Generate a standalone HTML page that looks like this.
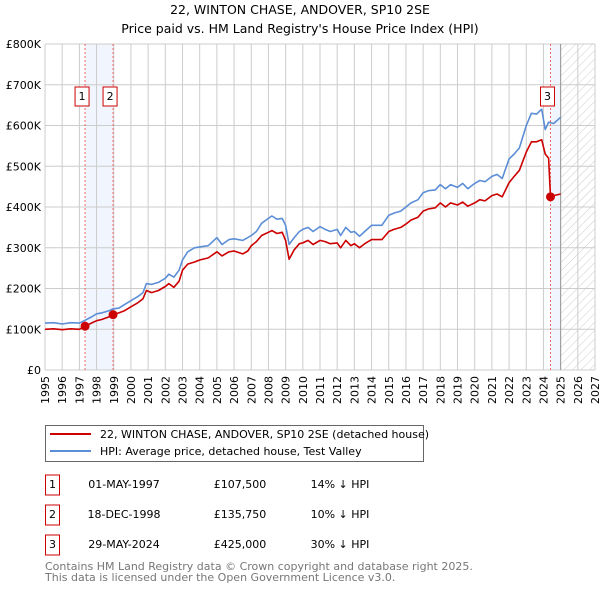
<!DOCTYPE html>
<html><head><meta charset="utf-8"><style>
body{margin:0;background:#fff;font-family:"DejaVu Sans","Liberation Sans",sans-serif;}
svg text{font-family:"DejaVu Sans","Liberation Sans",sans-serif;}
</style></head><body>
<svg id="c" width="600" height="590" xmlns="http://www.w3.org/2000/svg">
<defs><pattern id="hatch" width="6" height="6" patternUnits="userSpaceOnUse" patternTransform="rotate(45)"><line x1="0" y1="0" x2="0" y2="6" stroke="#ccc" stroke-width="1"/></pattern></defs>
<text x="300" y="14" font-size="12.5" text-anchor="middle">22, WINTON CHASE, ANDOVER, SP10 2SE</text>
<text x="300" y="33" font-size="12.5" text-anchor="middle">Price paid vs. HM Land Registry's House Price Index (HPI)</text>
<g id="plot"></g>
<g>
<rect x="45.5" y="425.5" width="378" height="36" fill="#fff" stroke="#666"/>
<line x1="50" y1="434" x2="91" y2="434" stroke="#cc0000" stroke-width="2"/>
<text x="100" y="438" font-size="11">22, WINTON CHASE, ANDOVER, SP10 2SE (detached house)</text>
<line x1="50" y1="451" x2="91" y2="451" stroke="#5b8ed6" stroke-width="2"/>
<text x="100" y="455" font-size="11">HPI: Average price, detached house, Test Valley</text>
</g>
<g id="table" font-size="11"></g>
<text x="45" y="570" font-size="11" fill="#777">Contains HM Land Registry data © Crown copyright and database right 2025.</text>
<text x="45" y="581" font-size="11" fill="#777">This data is licensed under the Open Government Licence v3.0.</text>
</svg>
<script>
const xTicks=[1995,1996,1997,1998,1999,2000,2001,2002,2003,2004,2005,2006,2007,2008,2009,2010,2011,2012,2013,2014,2015,2016,2017,2018,2019,2020,2021,2022,2023,2024,2025,2026,2027];
const yTicks=[0,100,200,300,400,500,600,700,800];
const yTickLabels=["£0","£100K","£200K","£300K","£400K","£500K","£600K","£700K","£800K"];
const hpiYears=[1995,1995.5,1996,1996.5,1997,1997.33,1997.7,1998,1998.3,1998.7,1998.96,1999.3,1999.6,2000,2000.4,2000.7,2000.9,2001.2,2001.6,2002,2002.2,2002.5,2002.8,2003,2003.3,2003.7,2004,2004.5,2005,2005.3,2005.7,2006,2006.5,2006.8,2007,2007.3,2007.6,2008,2008.2,2008.5,2008.8,2009,2009.2,2009.5,2009.8,2010,2010.3,2010.6,2011,2011.3,2011.6,2012,2012.2,2012.5,2012.8,2013,2013.3,2013.6,2014,2014.3,2014.6,2015,2015.3,2015.7,2016,2016.3,2016.7,2017,2017.3,2017.7,2018,2018.3,2018.6,2019,2019.3,2019.6,2020,2020.3,2020.6,2021,2021.3,2021.6,2022,2022.3,2022.6,2023,2023.3,2023.6,2023.9,2024.1,2024.3,2024.6,2025];
const hpiValues=[115,116,113,116,115,122,130,138,140,145,150,152,160,170,180,190,212,210,215,225,235,228,245,270,290,300,302,305,325,308,320,322,318,325,330,340,360,372,378,370,372,355,308,325,340,345,350,340,352,345,340,345,330,350,338,340,328,340,355,355,355,380,385,390,400,410,418,435,440,442,455,445,455,448,458,445,458,465,462,475,480,470,518,530,545,600,630,628,640,590,608,605,620];
const priceYears=[1995,1995.5,1996,1996.5,1997,1997.33,1997.7,1998,1998.3,1998.7,1998.96,1999.3,1999.6,2000,2000.4,2000.7,2000.9,2001.2,2001.6,2002,2002.2,2002.5,2002.8,2003,2003.3,2003.7,2004,2004.5,2005,2005.3,2005.7,2006,2006.5,2006.8,2007,2007.3,2007.6,2008,2008.2,2008.5,2008.8,2009,2009.2,2009.5,2009.8,2010,2010.3,2010.6,2011,2011.3,2011.6,2012,2012.2,2012.5,2012.8,2013,2013.3,2013.6,2014,2014.3,2014.6,2015,2015.3,2015.7,2016,2016.3,2016.7,2017,2017.3,2017.7,2018,2018.3,2018.6,2019,2019.3,2019.6,2020,2020.3,2020.6,2021,2021.3,2021.6,2022,2022.3,2022.6,2023,2023.3,2023.6,2023.9,2024.1,2024.3,2024.41,2024.6,2025];
const priceValues=[100,101,99,101,100,107.5,115,121,124,130,135.75,140,145,155,165,175,195,190,195,205,212,203,218,245,260,265,270,275,290,280,290,292,285,292,305,315,330,338,342,335,338,318,272,295,310,312,318,308,318,315,310,312,300,318,305,310,300,310,320,320,320,340,345,350,358,368,375,390,395,398,410,400,410,405,412,402,410,418,415,428,432,425,460,475,490,535,560,560,565,530,520,425,428,432];
const sales=[{n:"1",t:1997.33,v:107.5,d:"01-MAY-1997",p:"£107,500",h:"14% ↓ HPI"},{n:"2",t:1998.96,v:135.75,d:"18-DEC-1998",p:"£135,750",h:"10% ↓ HPI"},{n:"3",t:2024.41,v:425,d:"29-MAY-2024",p:"£425,000",h:"30% ↓ HPI"}];
const NS="http://www.w3.org/2000/svg";
const X0=45,X1=595,Y0=370,Y1=44;
const xs=t=>X0+(t-1995)/(2027-1995)*(X1-X0);
const ys=v=>Y0-v/800*(Y0-Y1);
const plot=document.getElementById('plot');
function mk(tag,attrs,parent){const e=document.createElementNS(NS,tag);for(const k in attrs)e.setAttribute(k,attrs[k]);(parent||plot).appendChild(e);return e;}
let b=mk('rect',{x:xs(sales[0].t),y:Y1,width:xs(sales[1].t)-xs(sales[0].t),height:Y0-Y1,fill:'#eef3fc',opacity:0.8});


b=mk('rect',{x:xs(sales[2].t),y:Y1,width:xs(2025)-xs(sales[2].t),height:Y0-Y1,fill:'#eef3fc',opacity:0.8});


b=mk('rect',{x:xs(2025),y:Y1,width:X1-xs(2025),height:Y0-Y1,fill:'url(#hatch)'});


xTicks.forEach(t=>{const l=mk('line',{x1:xs(t),x2:xs(t),y1:Y1,y2:Y0,stroke:'#ccc','stroke-width':1});


const tx=mk('text',{x:0,y:0,'font-size':11,'text-anchor':'end',transform:`translate(${xs(t)+4},${Y0+6}) rotate(-90)`});tx.textContent=t;

});
yTicks.forEach((v,i)=>{const l=mk('line',{x1:X0,x2:X1,y1:ys(v),y2:ys(v),stroke:'#ccc','stroke-width':1});


const tx=mk('text',{x:X0-4,y:ys(v)+4,'font-size':11,'text-anchor':'end'});tx.textContent=yTickLabels[i];

});
const vl=mk('line',{x1:xs(2025),x2:xs(2025),y1:Y1,y2:Y0,stroke:'#999','stroke-width':1});


sales.forEach(s=>{const l=mk('line',{x1:xs(s.t),x2:xs(s.t),y1:Y1,y2:Y0,stroke:'#e66','stroke-width':1,'stroke-dasharray':'2,2'});

});
function path(xsA,vs,color,name){let d='';xsA.forEach((t,i)=>{d+=(i?'L':'M')+xs(t).toFixed(1)+','+ys(vs[i]).toFixed(1);});
const p=mk('path',{d:d,fill:'none',stroke:color,'stroke-width':1.6,'stroke-linejoin':'round'});

}
path(hpiYears,hpiValues,'#5b8ed6','hpi-line');
path(priceYears,priceValues,'#cc0000','price-paid-line');
sales.forEach((s,i)=>{const c=mk('circle',{cx:xs(s.t),cy:ys(s.v),r:4.5,fill:'#cc0000'});


const cx=xs(s.t)-3;
const r=mk('rect',{x:cx-7,y:87,width:14,height:19,fill:'#fff',stroke:'#cc0000'});


const t=mk('text',{x:cx,y:100,'font-size':11,'text-anchor':'middle'});t.textContent=s.n;

});
const tb=document.getElementById('table');
sales.forEach((s,i)=>{const y=483+i*30;
const r=mk('rect',{x:45.5,y:y-8,width:14,height:20,fill:'#fff',stroke:'#cc0000'},tb);


[[52.5,s.n,'middle','table-index'],[124,s.d,'middle','table-date'],[240,s.p,'middle','table-price'],[340,s.h,'middle','table-hpi-diff']].forEach(a=>{const t=mk('text',{x:a[0],y:y+5,'text-anchor':a[2]},tb);t.textContent=a[1];

});});
</script>
</body></html>
